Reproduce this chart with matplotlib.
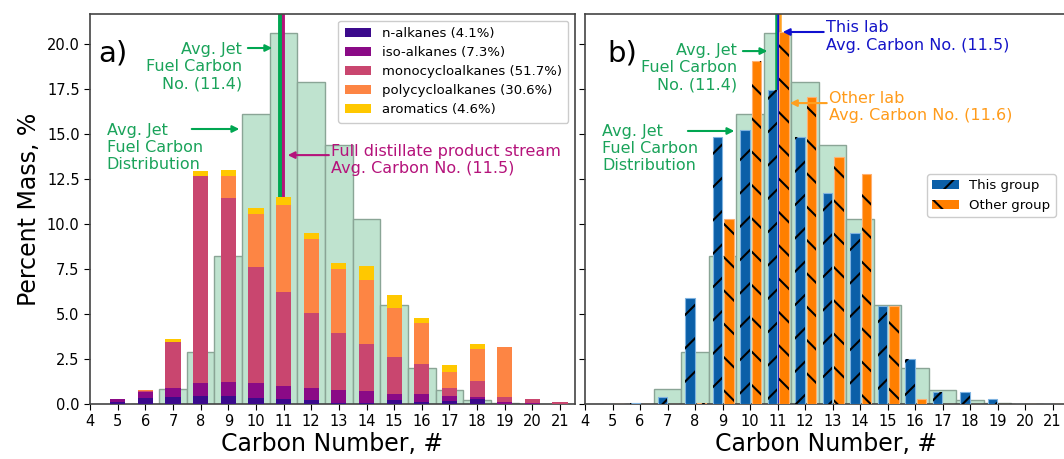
import numpy as np
import matplotlib
matplotlib.use('Agg')
import matplotlib.pyplot as plt

plt.rcParams['font.family'] = 'DejaVu Sans'
plt.rcParams['hatch.linewidth'] = 1.5

# carbon numbers
carbon = [5, 6, 7, 8, 9, 10, 11, 12, 13, 14, 15, 16, 17, 18, 19, 20, 21]

# panel a) stacked composition (percent mass)
n_alkanes = [0.10, 0.35, 0.39, 0.46, 0.44, 0.31, 0.28, 0.22, 0.05, 0.05, 0.22, 0.13, 0.17, 0.28, 0.02, 0.0, 0.0]
iso_alkanes = [0.16, 0.33, 0.48, 0.69, 0.76, 0.84, 0.74, 0.65, 0.73, 0.67, 0.35, 0.41, 0.29, 0.09, 0.11, 0.03, 0.0]
mono = [0.0, 0.05, 2.60, 11.50, 10.26, 6.48, 5.22, 4.17, 3.18, 2.63, 2.02, 1.66, 0.45, 0.91, 0.28, 0.25, 0.13]
poly = [0.0, 0.05, 0.0, 0.03, 1.22, 2.93, 4.82, 4.13, 3.52, 3.54, 2.76, 2.32, 0.89, 1.78, 2.74, 0.0, 0.0]
aromatics = [0.0, 0.0, 0.12, 0.24, 0.32, 0.34, 0.42, 0.33, 0.37, 0.80, 0.70, 0.28, 0.35, 0.27, 0.0, 0.0, 0.0]
labels_a = ['n-alkanes (4.1%)', 'iso-alkanes (7.3%)', 'monocycloalkanes (51.7%)',
            'polycycloalkanes (30.6%)', 'aromatics (4.6%)']
colors_a = ['#3b0a8c', '#8a0a86', '#c9466f', '#fd8544', '#ffc800']

# average jet fuel distribution
jet_carbon = [6, 7, 8, 9, 10, 11, 12, 13, 14, 15, 16, 17, 18, 19]
jet_mass = [0.0, 0.85, 2.9, 8.2, 16.1, 20.6, 17.9, 14.4, 10.3, 5.5, 2.0, 0.8, 0.2, 0.05]

# panel b) groups
this_group = [0.0, 0.05, 0.37, 5.9, 14.85, 15.2, 17.44, 14.85, 11.7, 9.48, 5.44, 2.48, 0.69, 0.65, 0.26, 0.0, 0.0]
other_group = [0.0, 0.0, 0.0, 0.03, 10.26, 19.07, 20.68, 17.04, 13.7, 12.78, 5.44, 0.26, 0.0, 0.0, 0.0, 0.0, 0.0]

# average carbon number line positions (as drawn)
jet_avg_x_a = 10.87
full_avg_x = 10.98
jet_avg_x_b = 10.95
this_avg_x = 11.02
other_avg_x = 11.09

green_line = '#00a651'
green_text = '#1aa35a'
magenta = '#b5137b'
blue_txt = '#1414c8'
orange_txt = '#ff9b1a'
hist_fill = '#bfe3cf'
hist_edge = '#8aa596'

fig = plt.figure(figsize=(10.64, 4.59), dpi=100)
W, H = 1064.0, 459.0
ax1 = fig.add_axes([90 / W, 55 / H, 485 / W, 390 / H])
ax2 = fig.add_axes([585 / W, 55 / H, 483 / W, 390 / H])

for ax in (ax1, ax2):
    ax.bar(jet_carbon, jet_mass, width=1.0, color=hist_fill, edgecolor=hist_edge,
           linewidth=1.0, zorder=1)

# ---- panel a ----
ax1.axvline(full_avg_x, color=magenta, lw=2.8, zorder=2)
ax1.axvline(jet_avg_x_a, color=green_line, lw=2.8, zorder=2.1)
bottom = np.zeros(len(carbon))
for vals, c, lab in zip([n_alkanes, iso_alkanes, mono, poly, aromatics], colors_a, labels_a):
    ax1.bar(carbon, vals, width=0.55, bottom=bottom, color=c, label=lab,
            edgecolor='none', zorder=3)
    bottom += np.array(vals)

ax1.legend(loc='upper right', fontsize=9.5, framealpha=1.0, borderpad=0.5,
           handlelength=2.0, labelspacing=0.45)

ax1.text(4.3, 19.45, 'a)', fontsize=21, ha='left', va='center')
ax1.text(9.50, 18.75, 'Avg. Jet\nFuel Carbon\nNo. (11.4)', color=green_text,
         fontsize=11.5, ha='right', va='center')
ax1.annotate('', xy=(10.69, 19.78), xytext=(9.61, 19.78),
             arrowprops=dict(arrowstyle='-|>', color=green_line, lw=1.5, mutation_scale=10))
ax1.text(4.61, 14.25, 'Avg. Jet\nFuel Carbon\nDistribution', color=green_text,
         fontsize=11.5, ha='left', va='center')
ax1.annotate('', xy=(9.50, 15.28), xytext=(7.58, 15.28),
             arrowprops=dict(arrowstyle='-|>', color=green_line, lw=1.5, mutation_scale=10))
ax1.text(12.72, 13.55, 'Full distillate product stream\nAvg. Carbon No. (11.5)',
         color=magenta, fontsize=11.5, ha='left', va='center')
ax1.annotate('', xy=(11.05, 13.83), xytext=(12.74, 13.83),
             arrowprops=dict(arrowstyle='-|>', color=magenta, lw=1.5, mutation_scale=10))

ax1.set_ylabel('Percent Mass, %', fontsize=17)

# ---- panel b ----
ax2.axvline(jet_avg_x_b, color=green_line, lw=1.8, zorder=2)
ax2.axvline(this_avg_x, color='#1010d0', lw=1.8, zorder=2)
ax2.axvline(other_avg_x, color='#ffa020', lw=1.8, zorder=2)

xb = np.array(carbon)
bw = 0.35
ax2.bar(xb - 0.18, this_group, width=bw, color='#0b5fa8', edgecolor='#7fb3e0',
        linewidth=0.8, zorder=3, label='This group')
ax2.bar(xb - 0.18, this_group, width=bw, fill=False, hatch='/', edgecolor='black',
        linewidth=0, zorder=3.1)
ax2.bar(xb + 0.23, other_group, width=bw, color='#ff7f00', edgecolor='#ffb070',
        linewidth=0.8, zorder=3, label='Other group')
ax2.bar(xb + 0.23, other_group, width=bw, fill=False, hatch='\\', edgecolor='black',
        linewidth=0, zorder=3.1)

from matplotlib.patches import Patch
handles = [Patch(facecolor='#0b5fa8', edgecolor='black', hatch='/', linewidth=0, label='This group'),
           Patch(facecolor='#ff7f00', edgecolor='black', hatch='\\', linewidth=0, label='Other group')]
ax2.legend(handles=handles, loc='upper right', bbox_to_anchor=(0.988, 0.607),
           fontsize=9.5, framealpha=1.0, handlelength=2.0)

ax2.text(4.8, 19.45, 'b)', fontsize=21, ha='left', va='center')
ax2.text(9.53, 18.67, 'Avg. Jet\nFuel Carbon\nNo. (11.4)', color=green_text,
         fontsize=11.5, ha='right', va='center')
ax2.annotate('', xy=(10.73, 19.61), xytext=(9.64, 19.61),
             arrowprops=dict(arrowstyle='-|>', color=green_line, lw=1.5, mutation_scale=10))
ax2.text(4.62, 14.2, 'Avg. Jet\nFuel Carbon\nDistribution', color=green_text,
         fontsize=11.5, ha='left', va='center')
ax2.annotate('', xy=(9.53, 15.17), xytext=(7.64, 15.17),
             arrowprops=dict(arrowstyle='-|>', color=green_line, lw=1.5, mutation_scale=10))
ax2.text(12.76, 20.42, 'This lab\nAvg. Carbon No. (11.5)', color=blue_txt,
         fontsize=11.5, ha='left', va='center')
ax2.annotate('', xy=(11.09, 20.67), xytext=(12.78, 20.67),
             arrowprops=dict(arrowstyle='-|>', color='#1010d0', lw=1.5, mutation_scale=10))
ax2.text(12.87, 16.5, 'Other lab\nAvg. Carbon No. (11.6)', color=orange_txt,
         fontsize=11.5, ha='left', va='center')
ax2.annotate('', xy=(11.35, 16.72), xytext=(12.89, 16.72),
             arrowprops=dict(arrowstyle='-|>', color='#ffa020', lw=1.5, mutation_scale=10))

ticks_x = list(range(4, 22))
for ax in (ax1, ax2):
    ax.set_ylim(0, 21.67)
    ax.set_xticks(ticks_x)
    ax.set_yticks([0, 2.5, 5, 7.5, 10, 12.5, 15, 17.5, 20])
    ax.tick_params(labelsize=10.5, length=4)
    ax.set_xlabel('Carbon Number, #', fontsize=17, labelpad=2)
    for s in ax.spines.values():
        s.set_color('#444444')
        s.set_linewidth(1.2)
ax1.set_xlim(4, 21.54)
ax2.set_xlim(4, 21.56)
ax1.set_yticklabels(['0.0', '2.5', '5.0', '7.5', '10.0', '12.5', '15.0', '17.5', '20.0'])
ax2.set_yticklabels([])

plt.savefig('out.png', dpi=100)
